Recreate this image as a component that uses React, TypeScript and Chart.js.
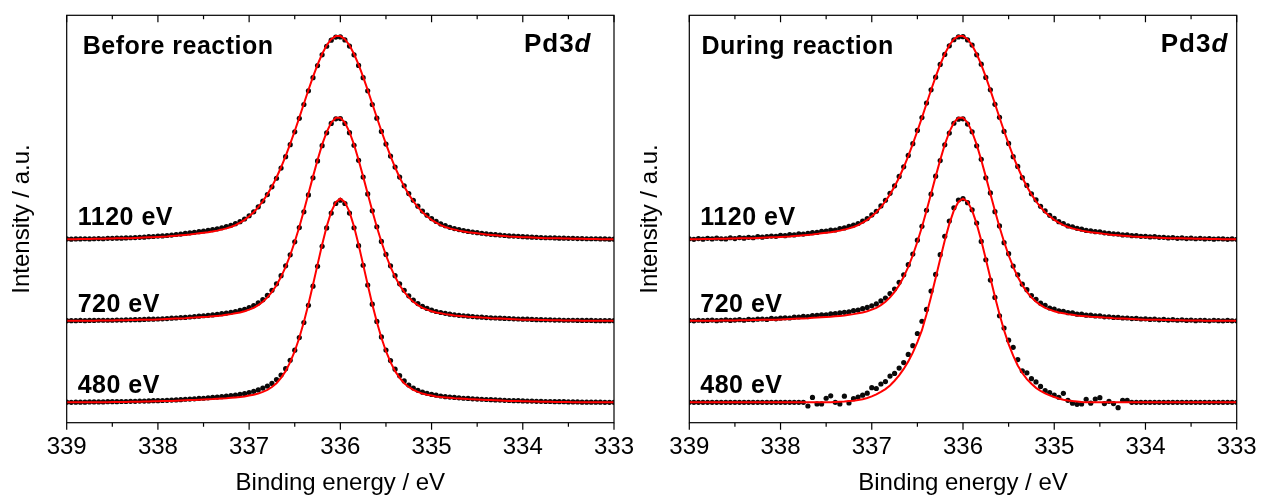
import React, { useEffect, useRef } from "react";
import { Chart, registerables } from "chart.js";

Chart.register(...registerables);

// ---------------- data ----------------
// acquisition grid: 339.00 eV down to 333.00 eV, step 0.05 eV (121 points)
const ENERGY_START = 339;
const ENERGY_STEP = 0.05;
const X_MIN = 333;
const X_MAX = 339;
const MAJOR_TICKS = [339, 338, 337, 336, 335, 334, 333];
const MINOR_TICKS = [338.5, 337.5, 336.5, 335.5, 334.5, 333.5];
const PHOTON_LABELS = ["1120 eV", "720 eV", "480 eV"];
const OFFSETS = [2.25, 1.25, 0.25];
const INTENSITY_SCALE = 0.025; // 100 % -> 2.5 axis units
const PANEL_TITLES = ["Before reaction", "During reaction"];
const CORE_LEVEL = ["Pd3", "d"];
const X_TITLE = "Binding energy / eV";
const Y_TITLE = "Intensity / a.u.";

// fitted curves (% of peak)
const FIT_1120 = [
  0.1, 0.1, 0.1, 0.2, 0.2, 0.2, 0.3, 0.3, 0.3, 0.4,
  0.4, 0.5, 0.5, 0.6, 0.6, 0.7, 0.8, 0.9, 1.0, 1.1,
  1.2, 1.3, 1.4, 1.6, 1.8, 2.0, 2.2, 2.4, 2.7, 3.0,
  3.3, 3.5, 3.9, 4.3, 4.8, 5.4, 6.1, 7.0, 8.2, 9.6,
  11.3, 13.3, 15.8, 18.7, 22.1, 26.0, 30.4, 35.4, 40.9, 46.9,
  53.2, 59.8, 66.6, 73.3, 79.8, 85.8, 91.0, 95.3, 98.3, 99.8,
  99.8, 98.3, 95.3, 91.0, 85.8, 79.8, 73.3, 66.6, 59.8, 53.2,
  46.9, 40.9, 35.4, 30.4, 26.0, 22.1, 18.7, 15.8, 13.3, 11.3,
  9.6, 8.2, 7.0, 6.1, 5.4, 4.8, 4.3, 3.9, 3.5, 3.3,
  3.0, 2.7, 2.4, 2.2, 2.0, 1.8, 1.6, 1.4, 1.3, 1.2,
  1.1, 1.0, 0.9, 0.8, 0.7, 0.6, 0.6, 0.5, 0.5, 0.4,
  0.4, 0.3, 0.3, 0.3, 0.2, 0.2, 0.2, 0.1, 0.1, 0.1,
  0.0,
];
const FIT_720 = [
  0, 0, 0.1, 0.1, 0.1, 0.1, 0.1, 0.2, 0.2, 0.2,
  0.2, 0.3, 0.3, 0.3, 0.4, 0.4, 0.5, 0.5, 0.6, 0.6,
  0.7, 0.8, 0.9, 1.0, 1.1, 1.2, 1.3, 1.5, 1.6, 1.8,
  1.9, 2.0, 2.2, 2.4, 2.6, 3.0, 3.3, 3.7, 4.1, 4.7,
  5.5, 6.4, 7.7, 9.4, 11.5, 14.2, 17.5, 21.6, 26.5, 32.2,
  38.8, 46.1, 54.0, 62.4, 70.8, 79.0, 86.5, 92.7, 97.3, 99.7,
  99.7, 97.3, 92.7, 86.5, 79.0, 70.8, 62.4, 54.0, 46.1, 38.8,
  32.2, 26.5, 21.6, 17.5, 14.2, 11.5, 9.4, 7.7, 6.4, 5.5,
  4.7, 4.1, 3.7, 3.3, 3.0, 2.6, 2.4, 2.2, 2.0, 1.9,
  1.8, 1.6, 1.5, 1.3, 1.2, 1.1, 1.0, 0.9, 0.8, 0.7,
  0.6, 0.6, 0.5, 0.5, 0.4, 0.4, 0.3, 0.3, 0.3, 0.2,
  0.2, 0.2, 0.2, 0.1, 0.1, 0.1, 0.1, 0.1, 0, 0,
  0,
];
const FIT_480_BEFORE = [
  0, 0, 0, 0, 0, 0.1, 0.1, 0.1, 0.1, 0.1,
  0.2, 0.2, 0.2, 0.2, 0.3, 0.3, 0.3, 0.4, 0.4, 0.5,
  0.5, 0.6, 0.6, 0.7, 0.8, 0.9, 1.0, 1.1, 1.2, 1.3,
  1.4, 1.5, 1.6, 1.8, 1.9, 2.0, 2.2, 2.4, 2.6, 2.9,
  3.3, 3.7, 4.3, 5.1, 6.1, 7.5, 9.4, 12.0, 15.3, 19.7,
  25.1, 31.7, 39.4, 48.1, 57.7, 67.6, 77.4, 86.3, 93.5, 98.3,
  100,
  98.3, 93.5, 86.3, 77.4, 67.6, 57.7, 48.1, 39.4, 31.7, 25.1,
  19.7, 15.3, 12.0, 9.4, 7.5, 6.1, 5.1, 4.3, 3.7, 3.3,
  2.9, 2.6, 2.4, 2.2, 2.0, 1.9, 1.8, 1.6, 1.5, 1.4,
  1.3, 1.2, 1.1, 1.0, 0.9, 0.8, 0.7, 0.6, 0.6, 0.5,
  0.5, 0.4, 0.4, 0.3, 0.3, 0.3, 0.2, 0.2, 0.2, 0.2,
  0.1, 0.1, 0.1, 0.1, 0.1, 0, 0, 0, 0, 0,
];
const FIT_480_DURING = [
  0, 0, 0, 0, 0, 0, 0, 0, 0, 0,
  0, 0, 0, 0, 0, 0, 0, 0, 0, 0,
  0, 0, 0, 0, 0, 0, 0, 0, 0, 0,
  0, 0.1, 0.2, 0.3, 0.4, 0.6, 0.8, 1.1, 1.5, 2.1,
  2.9, 3.9, 5.1, 6.5, 8.3, 10.6, 13.2, 16.4, 20.1, 24.4,
  29.6, 35.4, 43.2, 51.8, 61.0, 70.4, 79.4, 87.6, 94.2, 98.5,
  100,
  98.5, 94.2, 87.6, 79.4, 70.4, 61.0, 51.8, 43.2, 35.4, 28.6,
  22.9, 18.1, 14.4, 11.4, 9.1, 7.1, 5.6, 4.4, 3.4, 2.6,
  1.9, 1.3, 0.9, 0.6, 0.4, 0.2, 0.1, 0, 0, 0,
  0, 0, 0, 0, 0, 0, 0, 0, 0, 0,
  0, 0, 0, 0, 0, 0, 0, 0, 0, 0,
  0, 0, 0, 0, 0, 0, 0, 0, 0, 0,
];

// measured points (% of peak)
const DOTS_1120_BEFORE = [
  0.2, 0.1, 0.2, 0.2, 0.3, 0.2, 0.3, 0.4, 0.3, 0.5,
  0.5, 0.6, 0.6, 0.7, 0.8, 0.9, 1.0, 1.1, 1.3, 1.4,
  1.6, 1.7, 1.9, 2.1, 2.4, 2.6, 2.9, 3.2, 3.5, 3.8,
  4.1, 4.4, 4.8, 5.2, 5.7, 6.3, 6.9, 7.7, 8.7, 10.0,
  11.6, 13.5, 16.0, 18.8, 22.0, 25.8, 30.0, 35.0, 40.6, 46.5,
  52.8, 59.4, 66.2, 72.9, 79.4, 85.3, 90.6, 94.8, 97.8, 99.3,
  99.4, 97.9, 94.9, 90.6, 85.4, 79.4, 72.9, 66.2, 59.5, 53.0,
  46.8, 40.9, 35.5, 30.6, 26.3, 22.5, 19.2, 16.3, 13.9, 11.9,
  10.2, 8.8, 7.6, 6.7, 5.9, 5.3, 4.8, 4.3, 3.9, 3.6,
  3.3, 3.0, 2.7, 2.5, 2.3, 2.1, 1.9, 1.7, 1.6, 1.5,
  1.3, 1.2, 1.1, 1.0, 0.9, 0.8, 0.8, 0.7, 0.6, 0.6,
  0.5, 0.5, 0.4, 0.4, 0.3, 0.3, 0.3, 0.2, 0.2, 0.1,
  0.1,
];
const DOTS_720_BEFORE = [
  0.1, 0.1, 0.1, 0.2, 0.1, 0.2, 0.2, 0.3, 0.3, 0.3,
  0.3, 0.4, 0.4, 0.5, 0.5, 0.6, 0.6, 0.7, 0.8, 0.8,
  0.9, 1.0, 1.1, 1.3, 1.4, 1.6, 1.7, 1.9, 2.1, 2.3,
  2.5, 2.7, 2.9, 3.2, 3.5, 3.8, 4.2, 4.6, 5.1, 5.7,
  6.5, 7.5, 8.8, 10.4, 12.5, 15.0, 18.2, 22.2, 27.0, 32.4,
  38.8, 45.8, 53.5, 61.8, 70.2, 78.5, 86.0, 92.3, 96.9, 99.2,
  99.3, 96.9, 92.4, 86.2, 78.8, 70.6, 62.3, 54.0, 46.2, 39.0,
  32.6, 27.0, 22.2, 18.2, 15.0, 12.3, 10.2, 8.5, 7.1, 6.1,
  5.3, 4.6, 4.1, 3.7, 3.3, 3.0, 2.7, 2.5, 2.3, 2.1,
  1.9, 1.8, 1.6, 1.5, 1.4, 1.3, 1.2, 1.1, 1.0, 0.9,
  0.8, 0.8, 0.7, 0.6, 0.6, 0.5, 0.5, 0.4, 0.4, 0.3,
  0.3, 0.3, 0.2, 0.2, 0.2, 0.2, 0.1, 0.1, 0.1, 0.1,
  0.1,
];
const DOTS_480_BEFORE = [
  0.1, 0, 0.1, 0.1, 0.1, 0.2, 0.2, 0.2, 0.2, 0.3,
  0.3, 0.3, 0.4, 0.4, 0.5, 0.5, 0.6, 0.6, 0.7, 0.8,
  0.8, 0.9, 1.0, 1.1, 1.2, 1.3, 1.5, 1.6, 1.7, 1.9,
  2.0, 2.2, 2.4, 2.6, 2.8, 3.0, 3.3, 3.6, 3.9, 4.3,
  4.8, 5.4, 6.1, 7.0, 8.0, 9.3, 11.2, 13.4, 16.5, 20.6,
  25.6, 31.8, 39.2, 47.6, 57.0, 66.8, 76.6, 85.6, 92.9, 97.6,
  99.2,
  97.6, 92.9, 85.7, 76.9, 67.3, 57.6, 48.2, 39.7, 32.1, 25.7,
  20.5, 16.3, 13.1, 10.5, 8.5, 7.0, 5.9, 5.0, 4.4, 3.9,
  3.5, 3.1, 2.8, 2.6, 2.4, 2.2, 2.0, 1.9, 1.7, 1.6,
  1.5, 1.4, 1.3, 1.2, 1.1, 1.0, 0.9, 0.8, 0.8, 0.7,
  0.6, 0.6, 0.5, 0.5, 0.4, 0.4, 0.3, 0.3, 0.3, 0.2,
  0.2, 0.2, 0.1, 0.1, 0.1, 0.1, 0.1, 0, 0, 0,
];
const DOTS_1120_DURING = [
  0.3, 0, 0.4, 0.1, 0.5, 0.2, 0.6, 0.3, 0.2, 0.8,
  0.4, 0.9, 0.6, 1.0, 0.8, 1.3, 1.1, 1.4, 1.6, 1.5,
  2.0, 1.8, 2.3, 2.2, 2.7, 2.6, 3.0, 3.3, 3.4, 3.9,
  4.1, 4.6, 4.6, 5.3, 5.6, 6.4, 7.0, 7.8, 9.0, 10.2,
  12.0, 13.8, 16.4, 19.2, 22.6, 26.3, 30.9, 35.6, 41.2, 47.0,
  53.5, 59.8, 66.9, 73.4, 79.6, 85.9, 90.8, 95.0, 98.0, 99.4,
  99.5, 97.9, 95.4, 90.6, 86.0, 79.5, 73.4, 66.3, 59.9, 53.0,
  47.1, 40.6, 35.8, 30.3, 26.5, 22.4, 19.4, 16.2, 14.0, 11.8,
  10.3, 8.7, 7.8, 6.6, 6.2, 5.4, 5.0, 4.4, 4.2, 3.8,
  3.7, 3.2, 3.0, 2.7, 2.6, 2.2, 2.2, 1.8, 1.8, 1.5,
  1.5, 1.2, 1.3, 1.0, 1.0, 0.7, 0.9, 0.5, 0.7, 0.4,
  0.6, 0.3, 0.5, 0.2, 0.4, 0.1, 0.3, 0.2, 0, 0.2,
  0,
];
const DOTS_720_DURING = [
  0.2, 0, 0.3, 0.1, 0.2, 0.4, 0.1, 0.3, 0.5, 0.2,
  0.4, 0.6, 0.3, 0.7, 0.5, 0.8, 0.9, 0.7, 1.2, 1.0,
  1.3, 1.5, 1.4, 1.8, 1.9, 2.2, 2.1, 2.6, 2.7, 3.0,
  3.0, 3.4, 3.5, 3.9, 4.2, 4.4, 5.0, 5.3, 6.0, 6.6,
  7.4, 8.3, 9.8, 11.2, 13.4, 15.6, 18.9, 22.6, 27.6, 32.8,
  39.6, 46.4, 54.3, 62.2, 71.0, 78.7, 86.4, 92.2, 97.0, 99.0,
  99.2, 96.6, 92.8, 85.9, 79.3, 70.2, 62.8, 53.6, 46.6, 38.4,
  33.0, 26.9, 22.6, 18.0, 15.3, 12.4, 10.6, 8.7, 7.6, 6.3,
  5.8, 4.9, 4.7, 4.0, 3.9, 3.3, 3.3, 2.8, 2.8, 2.4,
  2.4, 2.0, 2.0, 1.7, 1.7, 1.4, 1.4, 1.1, 1.2, 0.9,
  1.0, 0.7, 0.8, 0.5, 0.7, 0.4, 0.6, 0.3, 0.5, 0.2,
  0.4, 0.1, 0.3, 0.2, 0, 0.3, 0.1, 0, 0.2, 0,
  0,
];
const DOTS_480_DURING = [
  0, 0, 0, 0, 0, 0, 0, 0, 0, 0,
  0, 0, 0, 0, 0, 0, 0, 0, 0, 0,
  0, 0, 0, 0, 0, 0, -1.8, 2.4, -0.8, -0.8,
  2.0, 3.2, 0.0, -0.8, 3.0, -0.3, 1.8, 2.6, 3.5, 4.5,
  7.2, 6.8, 9.0, 10.2, 12.9, 14.2, 16.8, 19.5, 23.5, 27.8,
  33.8, 39.8, 45.6, 54.6, 62.8, 72.5, 81.5, 89.0, 95.5, 99.3,
  100,
  98.0, 94.5, 88.0, 79.0, 70.0, 60.0, 51.5, 42.5, 36.5, 30.5,
  27.0, 21.0, 15.5, 14.5, 11.6, 10.0, 7.8, 5.8, 4.8, 3.6,
  2.5, 4.4, 1.0, -0.4, -1.0, -0.8, 1.5, -0.4, 1.6, 2.3,
  -0.6, 0.5, -0.6, -2.6, 1.0, 1.0, 0, 0, 0, 0,
  0, 0, 0, 0, 0, 0, 0, 0, 0, 0,
  0, 0, 0, 0, 0, 0, 0, 0, 0, 0,
];

// ---------------- layout / style ----------------
const FONT = "'Liberation Sans', Arial, Helvetica, sans-serif";
const CANVAS_H = 495;
const PANELS = [
  {
    title: PANEL_TITLES[0],
    left: 0,
    width: 640,
    yAxisWidth: 66.7,
    padRight: 26,
    yTitlePad: 7.7,
    titleDx: 16,
    labelDx: 11,
    pdDx: 22.5,
    fits: [FIT_1120, FIT_720, FIT_480_BEFORE],
    dots: [DOTS_1120_BEFORE, DOTS_720_BEFORE, DOTS_480_BEFORE],
  },
  {
    title: PANEL_TITLES[1],
    left: 620,
    width: 643,
    yAxisWidth: 69.3,
    padRight: 26.3,
    yTitlePad: 15.7,
    titleDx: 12.2,
    labelDx: 11,
    pdDx: 8.4,
    fits: [FIT_1120, FIT_720, FIT_480_DURING],
    dots: [DOTS_1120_DURING, DOTS_720_DURING, DOTS_480_DURING],
  },
];
const LABEL_GAPS = [14, 9.3, 9.4];

function toPoints(values: number[], offset: number) {
  return values.map((v, i) => ({
    x: ENERGY_START - i * ENERGY_STEP,
    y: offset + v * INTENSITY_SCALE,
  }));
}

function makeDecor(panel: any) {
  return {
    id: "decor",
    afterDraw(chart: any) {
      const { ctx, chartArea, scales } = chart;
      const { left, right, top, bottom } = chartArea;
      const x = scales.x;
      const y = scales.y;
      ctx.save();
      ctx.strokeStyle = "#000";
      ctx.lineWidth = 1.2;
      ctx.strokeRect(left, top, right - left, bottom - top);
      ctx.beginPath();
      MAJOR_TICKS.forEach((v) => {
        const px = x.getPixelForValue(v);
        ctx.moveTo(px, bottom);
        ctx.lineTo(px, bottom + 7);
        ctx.moveTo(px, top);
        ctx.lineTo(px, top + 7);
      });
      MINOR_TICKS.forEach((v) => {
        const px = x.getPixelForValue(v);
        ctx.moveTo(px, bottom);
        ctx.lineTo(px, bottom + 4);
        ctx.moveTo(px, top);
        ctx.lineTo(px, top + 4);
      });
      ctx.stroke();

      ctx.fillStyle = "#000";
      ctx.textBaseline = "alphabetic";
      ctx.textAlign = "left";
      ctx.font = `bold 25px ${FONT}`;
      ctx.letterSpacing = "0.5px";
      ctx.fillText(panel.title, left + panel.titleDx, top + 39);
      PHOTON_LABELS.forEach((t, i) => {
        ctx.fillText(t, left + panel.labelDx, y.getPixelForValue(OFFSETS[i]) - LABEL_GAPS[i]);
      });

      ctx.letterSpacing = "1px";
      ctx.font = `bold 26px ${FONT}`;
      const w1 = ctx.measureText(CORE_LEVEL[0]).width;
      ctx.font = `italic bold 26px ${FONT}`;
      const w2 = ctx.measureText(CORE_LEVEL[1]).width;
      const xEnd = right - panel.pdDx;
      ctx.font = `bold 26px ${FONT}`;
      ctx.fillText(CORE_LEVEL[0], xEnd - w1 - w2, top + 36.4);
      ctx.font = `italic bold 26px ${FONT}`;
      ctx.fillText(CORE_LEVEL[1], xEnd - w2, top + 36.4);
      ctx.letterSpacing = "0px";
      ctx.restore();
    },
  };
}

function Panel({ panel }: { panel: any }) {
  const ref = useRef<HTMLCanvasElement>(null);
  useEffect(() => {
    const datasets: any[] = [];
    panel.fits.forEach((f: number[], i: number) => {
      datasets.push({
        label: "fit " + PHOTON_LABELS[i],
        data: toPoints(f, OFFSETS[i]),
        showLine: true,
        borderColor: "#ff0000",
        borderWidth: 2,
        pointRadius: 0,
        tension: 0,
        fill: false,
        order: 0,
      });
    });
    panel.dots.forEach((d: number[], i: number) => {
      datasets.push({
        label: "data " + PHOTON_LABELS[i],
        data: toPoints(d, OFFSETS[i]),
        showLine: false,
        pointRadius: 2.6,
        pointBorderWidth: 0,
        pointBackgroundColor: "#0a0a0a",
        pointBorderColor: "#0a0a0a",
        order: 1,
      });
    });
    const chart = new Chart(ref.current as HTMLCanvasElement, {
      type: "scatter",
      data: { datasets },
      options: {
        animation: false,
        responsive: false,
        devicePixelRatio: 1,
        events: [],
        layout: { padding: { top: 15.3, right: panel.padRight, left: 0, bottom: 0 } },
        plugins: { legend: { display: false }, tooltip: { enabled: false } },
        scales: {
          x: {
            type: "linear",
            min: X_MIN,
            max: X_MAX,
            reverse: true,
            afterFit: (a: any) => {
              a.height = CANVAS_H - 422.7;
            },
            ticks: {
              stepSize: 1,
              autoSkip: false,
              maxRotation: 0,
              padding: 2,
              color: "#000",
              font: { family: FONT, size: 24 },
              callback: (v: any) => String(v),
            },
            grid: { display: false },
            border: { display: false },
            title: {
              display: true,
              text: X_TITLE,
              color: "#000",
              font: { family: FONT, size: 24, lineHeight: 1 },
              padding: { top: 0, bottom: 0 },
            },
          },
          y: {
            min: 0,
            max: 5,
            afterFit: (a: any) => {
              a.width = panel.yAxisWidth;
            },
            ticks: { display: false },
            grid: { display: false },
            border: { display: false },
            title: {
              display: true,
              text: Y_TITLE,
              color: "#000",
              font: { family: FONT, size: 24 },
              padding: { top: panel.yTitlePad, bottom: 0 },
            },
          },
        },
      } as any,
      plugins: [makeDecor(panel)],
    });
    return () => chart.destroy();
  }, []);
  return (
    <canvas
      ref={ref}
      width={panel.width}
      height={CANVAS_H}
      style={{ position: "absolute", left: panel.left, top: 0, width: panel.width, height: CANVAS_H }}
    />
  );
}

export default function App() {
  return (
    <div
      style={{
        position: "fixed",
        left: 0,
        top: 0,
        width: 1263,
        height: CANVAS_H,
        background: "#fff",
        overflow: "hidden",
      }}
    >
      {PANELS.map((p, i) => (
        <Panel key={i} panel={p} />
      ))}
    </div>
  );
}
